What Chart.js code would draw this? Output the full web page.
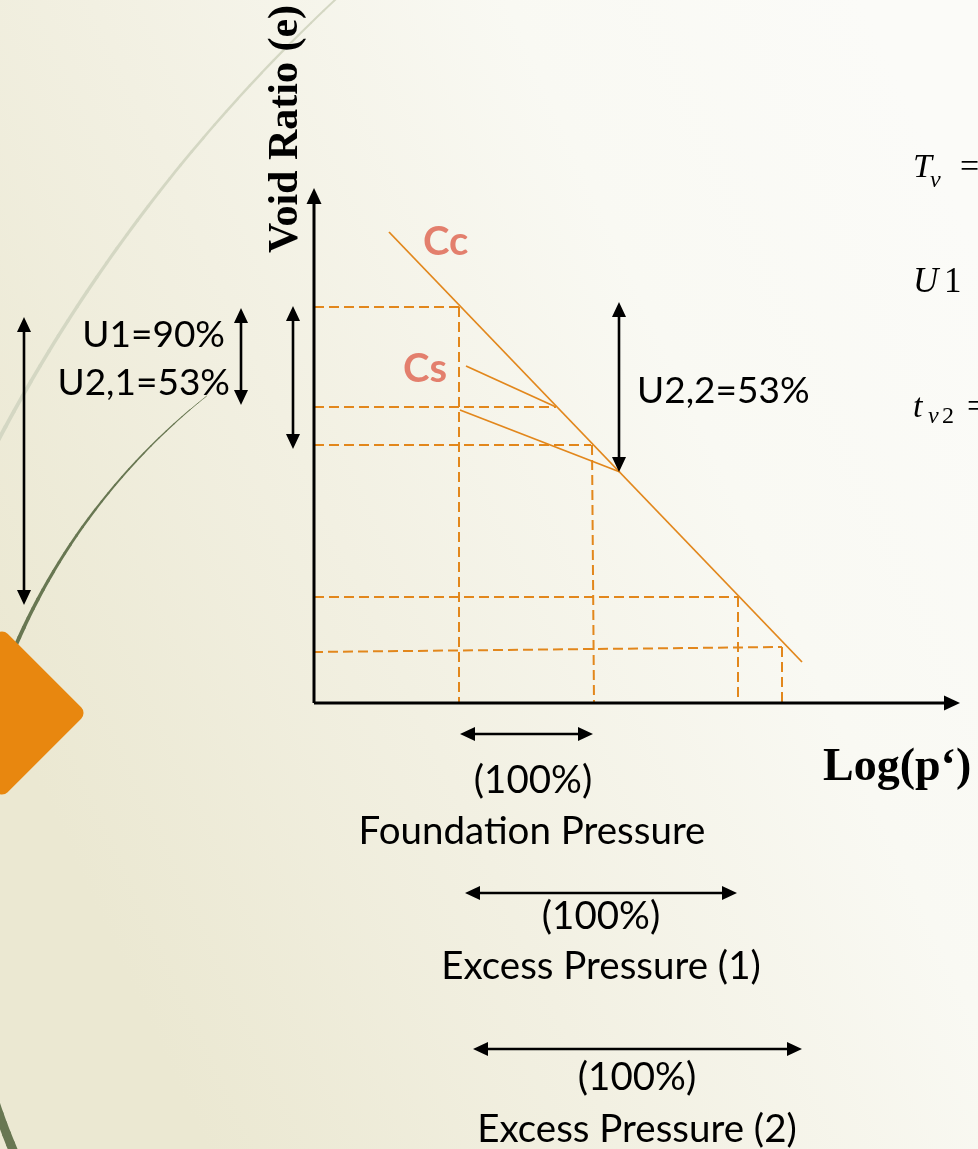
<!DOCTYPE html>
<html>
<head>
<meta charset="utf-8">
<script src="https://cdn.jsdelivr.net/npm/chart.js@4.4.1/dist/chart.umd.min.js"></script>
<style>
  html, body { margin: 0; padding: 0; overflow: hidden; background: #f6f4ea; }
  canvas { display: block; }
</style>
</head>
<body>
<canvas id="myChart" width="978" height="1149"></canvas>
<script>
/* globals Chart:false */

// e - log(p') diagram, units (origin at the axis corner)
const ccLogP = [1.5, 9.76];
const ccE = [9.42, 0.82];
const csUpperLogP = [3.04, 4.84];
const csUpperE = [6.74, 5.92];
const csLowerLogP = [2.92, 6.12];
const csLowerE = [5.86, 4.62];

// dashed guides
const hGuideLogP = [[0, 2.9], [0, 4.84], [0, 5.54], [0, 8.48], [-0.02, 9.36]];
const hGuideE = [[7.92, 7.92], [5.92, 5.92], [5.16, 5.16], [2.12, 2.12], [1.02, 1.12]];
const vGuideLogP = [[2.9, 2.9], [5.56, 5.6], [8.48, 8.48], [9.36, 9.36]];
const vGuideE = [[7.92, 0], [5.16, 0], [2.12, 0], [1.12, 0]];

// axes and double arrows
const axisLogP = [[0, 0], [0, 12.92]];
const axisE = [[0, 10.3], [0, 0]];
const arrowLogP = [[-5.8, -5.8], [-1.46, -1.46], [-0.42, -0.42], [6.1, 6.1], [2.92, 5.58], [3.02, 8.46], [3.18, 9.76]];
const arrowE = [[7.72, 1.96], [7.9, 5.96], [7.94, 5.08], [8.02, 4.62], [-0.62, -0.62], [-3.8, -3.8], [-6.92, -6.92]];

// texts
const slopeLabels = ['Cc', 'Cs'];
const uLabels = ['U1=90%', 'U2,1=53%', 'U2,2=53%'];
const rangeLabels = ['(100%)', 'Foundation Pressure', '(100%)', 'Excess Pressure (1)', '(100%)', 'Excess Pressure (2)'];
const xTitle = 'Log(p\u2018)';
const yTitle = 'Void Ratio (e)';

const ORANGE = '#e2871c';
const SALMON = '#e37f6d';

function pts(xs, ys) {
  return xs.map((x, i) => ({ x: x, y: ys[i] }));
}

const datasets = [];
[[ccLogP, ccE], [csUpperLogP, csUpperE], [csLowerLogP, csLowerE]].forEach(([xs, ys]) => {
  datasets.push({ data: pts(xs, ys), borderColor: ORANGE, borderWidth: 1.8 });
});
hGuideLogP.forEach((xs, i) => {
  datasets.push({ data: pts(xs, hGuideE[i]), borderColor: ORANGE, borderWidth: 2, borderDash: [10, 5] });
});
vGuideLogP.forEach((xs, i) => {
  datasets.push({ data: pts(xs, vGuideE[i]), borderColor: ORANGE, borderWidth: 2, borderDash: [10, 5] });
});
datasets.forEach(d => { d.showLine = true; d.pointRadius = 0; d.fill = false; });

// slide background + decorations
const slideBg = {
  id: 'slideBg',
  beforeDraw(chart) {
    const ctx = chart.ctx;
    const w = chart.width, h = chart.height;
    ctx.save();
    const g = ctx.createLinearGradient(0, 700, w, 250);
    g.addColorStop(0, '#ebe8d2');
    g.addColorStop(0.35, '#f2f0e2');
    g.addColorStop(0.7, '#f9f9f3');
    g.addColorStop(1, '#fbfbf8');
    ctx.fillStyle = g;
    ctx.fillRect(0, 0, w, h);

    // light arc
    ctx.lineCap = 'round';
    ctx.strokeStyle = '#d4d7c3';
    let a0 = 227 * Math.PI / 180, a1 = 203 * Math.PI / 180, n = 40;
    for (let i = 0; i < n; i++) {
      const t = i / n;
      ctx.lineWidth = 2 + 2.5 * t;
      ctx.beginPath();
      ctx.arc(1478, 1223, 1674, a0 - (a0 - a1) * t, a0 - (a0 - a1) * (i + 1) / n, true);
      ctx.stroke();
    }
    // dark olive arc
    ctx.strokeStyle = '#687752';
    a0 = 231.5 * Math.PI / 180; a1 = 156 * Math.PI / 180; n = 80;
    for (let i = 0; i < n; i++) {
      const t = i / n;
      ctx.lineWidth = 0.8 + 8.5 * t;
      ctx.beginPath();
      ctx.arc(608, 901, 645, a0 - (a0 - a1) * t, a0 - (a0 - a1) * (i + 1) / n, true);
      ctx.stroke();
    }
    // orange diamond
    ctx.translate(2, 713);
    ctx.rotate(Math.PI / 4);
    ctx.fillStyle = '#e8870f';
    ctx.beginPath();
    ctx.roundRect(-60, -60, 120, 120, 8);
    ctx.fill();
    ctx.restore();
  }
};

function drawArrow(ctx, x1, y1, x2, y2, both, lw, hl, hw) {
  const ang = Math.atan2(y2 - y1, x2 - x1);
  const ux = Math.cos(ang), uy = Math.sin(ang);
  ctx.lineWidth = lw;
  ctx.beginPath();
  ctx.moveTo(both ? x1 + ux * hl * 0.8 : x1, both ? y1 + uy * hl * 0.8 : y1);
  ctx.lineTo(x2 - ux * hl * 0.8, y2 - uy * hl * 0.8);
  ctx.stroke();
  const head = (tx, ty, dx, dy) => {
    ctx.beginPath();
    ctx.moveTo(tx, ty);
    ctx.lineTo(tx - dx * hl - dy * hw / 2, ty - dy * hl + dx * hw / 2);
    ctx.lineTo(tx - dx * hl + dy * hw / 2, ty - dy * hl - dx * hw / 2);
    ctx.closePath();
    ctx.fill();
  };
  head(x2, y2, ux, uy);
  if (both) head(x1, y1, -ux, -uy);
}

const annotations = {
  id: 'annotations',
  afterDatasetsDraw(chart) {
    const ctx = chart.ctx;
    const xs = chart.scales.x, ys = chart.scales.y;
    const px = v => xs.getPixelForValue(v);
    const py = v => ys.getPixelForValue(v);
    ctx.save();
    ctx.fillStyle = '#000';
    ctx.strokeStyle = '#000';

    axisLogP.forEach((lx, i) => {
      drawArrow(ctx, px(lx[0]), py(axisE[i][0]), px(lx[1]), py(axisE[i][1]), false, 3, 16, 15);
    });
    arrowLogP.forEach((lx, i) => {
      drawArrow(ctx, px(lx[0]), py(arrowE[i][0]), px(lx[1]), py(arrowE[i][1]), true, 2.6, 15, 14);
    });

    const put = (txt, lp, e, font, align, color) => {
      ctx.font = font;
      ctx.textAlign = align;
      ctx.textBaseline = 'alphabetic';
      ctx.fillStyle = color || '#000';
      ctx.fillText(txt, px(lp), py(e));
    };

    // Cc / Cs
    put(slopeLabels[0], 2.18, 8.96, 'bold 40px Lato', 'left', SALMON);
    put(slopeLabels[1], 1.78, 6.42, 'bold 40px Lato', 'left', SALMON);

    // degree of consolidation labels
    put(uLabels[0], -1.78, 7.12, '37px Lato', 'right');
    put(uLabels[1], -1.68, 6.16, '37px Lato', 'right');
    put(uLabels[2], 6.46, 6.0, '37px Lato', 'left');

    // pressure ranges
    const rangePos = [[4.38, -1.8], [4.36, -2.82], [5.74, -4.52], [5.74, -5.52], [6.46, -7.74], [6.46, -8.78]];
    rangeLabels.forEach((t, i) => put(t, rangePos[i][0], rangePos[i][1], '38.5px Lato', 'center'));

    // axis titles
    put(xTitle, 10.18, -1.54, 'bold 46px "Liberation Serif"', 'left');
    ctx.save();
    ctx.translate(px(-0.34), py(11.48));
    ctx.rotate(-Math.PI / 2);
    ctx.font = 'bold 42px "Liberation Serif"';
    ctx.textAlign = 'center';
    ctx.fillStyle = '#000';
    ctx.fillText(yTitle, 0, 0);
    ctx.restore();

    // equations cut at the right edge
    put('T', 11.98, 10.52, 'italic 34px "Liberation Serif"', 'left');
    put('v', 12.32, 10.32, 'italic 24px "Liberation Serif"', 'left');
    put('=', 12.92, 10.52, '34px "Liberation Serif"', 'left');
    put('U', 11.98, 8.22, 'italic 35px "Liberation Serif"', 'left');
    put('1', 12.6, 8.22, '35px "Liberation Serif"', 'left');
    put('t', 11.98, 5.72, 'italic 34px "Liberation Serif"', 'left');
    put('v', 12.28, 5.6, 'italic 24px "Liberation Serif"', 'left');
    put('2', 12.56, 5.6, '24px "Liberation Serif"', 'left');
    put('=', 13.06, 5.72, '34px "Liberation Serif"', 'left');

    ctx.restore();
  }
};

const ctx = document.getElementById('myChart');
const myChart = new Chart(ctx, {
  type: 'scatter',
  data: { datasets: datasets },
  options: {
    responsive: false,
    animation: false,
    devicePixelRatio: 1,
    layout: { padding: 0 },
    scales: {
      x: { type: 'linear', display: false, min: -6.28, max: 13.28 },
      y: { type: 'linear', display: false, min: -8.92, max: 14.06 }
    },
    plugins: {
      legend: { display: false },
      tooltip: { enabled: false }
    }
  },
  plugins: [slideBg, annotations]
});
</script>
</body>
</html>
